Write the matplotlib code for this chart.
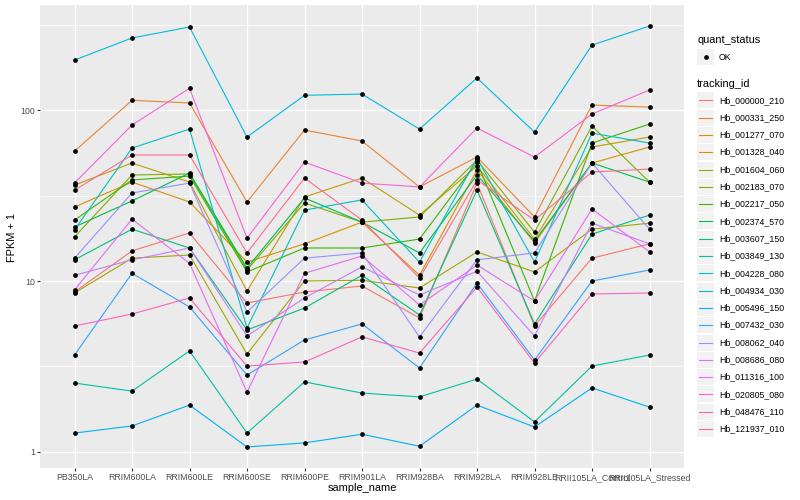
import numpy as np
import matplotlib.pyplot as plt
from matplotlib.patches import Rectangle
from matplotlib.ticker import NullFormatter

plt.rcParams['font.family'] = ['Liberation Sans', 'DejaVu Sans']

# samples along the x axis
sample_names = ['PB350LA', 'RRIM600LA', 'RRIM600LE', 'RRIM600SE', 'RRIM600PE',
                'RRIM901LA', 'RRIM928BA', 'RRIM928LA', 'RRIM928LE',
                'RRII105LA_Control', 'RRII105LA_Stressed']

tracking_ids = ['Hb_000000_210', 'Hb_000331_250', 'Hb_001277_070', 'Hb_001328_040',
                'Hb_001604_060', 'Hb_002183_070', 'Hb_002217_050', 'Hb_002374_570',
                'Hb_003607_150', 'Hb_003849_130', 'Hb_004228_080', 'Hb_004934_030',
                'Hb_005496_150', 'Hb_007432_030', 'Hb_008062_040', 'Hb_008686_080',
                'Hb_011316_100', 'Hb_020805_080', 'Hb_048476_110', 'Hb_121937_010']

# FPKM + 1 per gene, one value per sample
hb_000000_210 = [8.62, 15.0, 19.1, 7.44, 8.62, 9.35, 6.08, 37.4, 5.46, 13.6, 16.5]
hb_000331_250 = [57.5, 114, 110, 29.0, 76.4, 65.9, 35.5, 53.1, 23.7, 107, 104]
hb_001277_070 = [27.1, 37.9, 29.0, 12.9, 16.5, 22.1, 10.8, 44.6, 16.7, 49.0, 60.8]
hb_001328_040 = [36.4, 49.0, 37.9, 8.74, 31.0, 40.0, 24.3, 47.1, 17.6, 60.8, 69.5]
hb_001604_060 = [8.51, 13.6, 14.2, 3.74, 10.0, 10.1, 9.10, 14.8, 11.3, 20.1, 21.8]
hb_002183_070 = [18.1, 41.7, 42.3, 11.6, 28.6, 22.1, 23.7, 51.0, 19.3, 80.6, 37.9]
hb_002217_050 = [22.7, 39.0, 41.1, 11.3, 15.6, 15.6, 17.6, 49.6, 7.64, 64.1, 82.8]
hb_002374_570 = [20.7, 29.4, 42.8, 11.9, 30.6, 22.1, 14.6, 41.7, 17.1, 49.0, 37.9]
hb_003607_150 = [13.3, 20.1, 15.6, 5.17, 6.95, 10.8, 6.33, 34.0, 5.61, 18.8, 24.3]
hb_003849_130 = [2.53, 2.27, 3.90, 1.29, 2.57, 2.21, 2.10, 2.67, 1.50, 3.18, 3.69]
hb_004228_080 = [19.9, 59.9, 77.4, 5.31, 26.0, 29.8, 12.9, 52.4, 12.9, 73.3, 64.1]
hb_004934_030 = [196, 264, 306, 69.5, 122, 124, 77.4, 154, 74.3, 240, 310]
hb_005496_150 = [1.29, 1.42, 1.88, 1.07, 1.13, 1.27, 1.08, 1.88, 1.40, 2.37, 1.83]
hb_007432_030 = [3.69, 11.1, 7.05, 2.82, 4.52, 5.61, 3.10, 9.73, 3.45, 10.0, 11.6]
hb_008062_040 = [13.6, 32.7, 37.4, 6.59, 13.6, 14.6, 4.71, 13.3, 14.6, 49.0, 20.1]
hb_008686_080 = [10.8, 13.3, 15.6, 4.77, 7.96, 12.1, 8.28, 11.4, 4.77, 21.8, 16.5]
hb_011316_100 = [8.86, 23.0, 12.7, 2.24, 11.1, 14.0, 7.24, 12.4, 7.64, 26.4, 14.8]
hb_020805_080 = [37.4, 81.7, 134, 17.8, 49.6, 37.4, 35.5, 78.5, 53.1, 94.8, 131]
hb_048476_110 = [5.46, 6.41, 7.96, 3.18, 3.36, 4.71, 3.79, 9.22, 3.31, 8.39, 8.51]
hb_121937_010 = [34.0, 54.6, 54.6, 14.6, 40.0, 22.7, 10.4, 39.0, 22.7, 43.4, 45.2]

series = [hb_000000_210, hb_000331_250, hb_001277_070, hb_001328_040, hb_001604_060,
          hb_002183_070, hb_002217_050, hb_002374_570, hb_003607_150, hb_003849_130,
          hb_004228_080, hb_004934_030, hb_005496_150, hb_007432_030, hb_008062_040,
          hb_008686_080, hb_011316_100, hb_020805_080, hb_048476_110, hb_121937_010]

# ggplot default hue palette for 20 levels
colors = ['#F8766D', '#EA8331', '#D89000', '#C09B00', '#A3A500', '#7CAE00', '#39B600',
          '#00BB4E', '#00BF7D', '#00C1A3', '#00BFC4', '#00BAE0', '#00B0F6', '#35A2FF',
          '#9590FF', '#C77CFF', '#E76BF3', '#FA62DB', '#FF62BC', '#FF6C90']

W, H = 800, 500
fig = plt.figure(figsize=(8, 5), dpi=100)
ax = fig.add_axes([40 / W, 32 / H, 644 / W, 463 / H])
ax.set_facecolor('#EBEBEB')
for s in ax.spines.values():
    s.set_visible(False)

x = np.arange(len(sample_names))
for vals, col in zip(series, colors):
    ax.plot(x, vals, color=col, lw=0.8, zorder=2)
for vals in series:
    ax.plot(x, vals, ls='none', marker='o', ms=2.4, color='black', zorder=3)

ax.set_yscale('log')
lo = np.log10(min(min(v) for v in series))
hi = np.log10(max(max(v) for v in series))
pad = 0.05 * (hi - lo)
ax.set_ylim(10 ** (lo - pad), 10 ** (hi + pad))
ax.set_xlim(-0.6, len(sample_names) - 1 + 0.6)

ax.set_xticks(x)
ax.set_xticklabels(sample_names)
ax.set_yticks([1, 10, 100])
ax.set_yticklabels(['1', '10', '100'])
ax.set_yticks([10 ** 0.5, 10 ** 1.5, 10 ** 2.5], minor=True)
ax.yaxis.set_minor_formatter(NullFormatter())
ax.tick_params(which='minor', length=0)
ax.tick_params(which='major', length=2.2, width=0.8, color='#333333',
               labelsize=6.3, labelcolor='#4D4D4D', pad=1.5)
ax.grid(which='major', color='white', lw=1.0)
ax.grid(which='minor', axis='y', color='white', lw=0.5)
ax.set_axisbelow(True)

fig.text(362 / W, 1 - 488 / H, 'sample_name', ha='center', va='center', fontsize=7.9)
fig.text(12 / W, 1 - 237 / H, 'FPKM + 1', ha='center', va='center',
         rotation=90, fontsize=7.9)

# legends drawn in pixel coordinates
lax = fig.add_axes([0, 0, 1, 1])
lax.set_xlim(0, W)
lax.set_ylim(H, 0)
lax.axis('off')

lax.text(697, 40, 'quant_status', fontsize=7.9, va='center')
lax.add_patch(Rectangle((697, 49), 17, 16, fc='#F2F2F2', ec='none'))
lax.plot([705.5], [57], marker='o', ms=2.4, color='black')
lax.text(719, 57, 'OK', fontsize=6.3, va='center')

lax.text(697, 84, 'tracking_id', fontsize=7.9, va='center')
for i, (tid, col) in enumerate(zip(tracking_ids, colors)):
    cy = 100.3 + 17.3 * i
    lax.add_patch(Rectangle((697, cy - 8), 17, 16, fc='#F2F2F2', ec='none'))
    lax.plot([699, 712], [cy, cy], color=col, lw=0.8)
    lax.text(719, cy, tid, fontsize=6.3, va='center')

fig.savefig('out.png', dpi=100)
